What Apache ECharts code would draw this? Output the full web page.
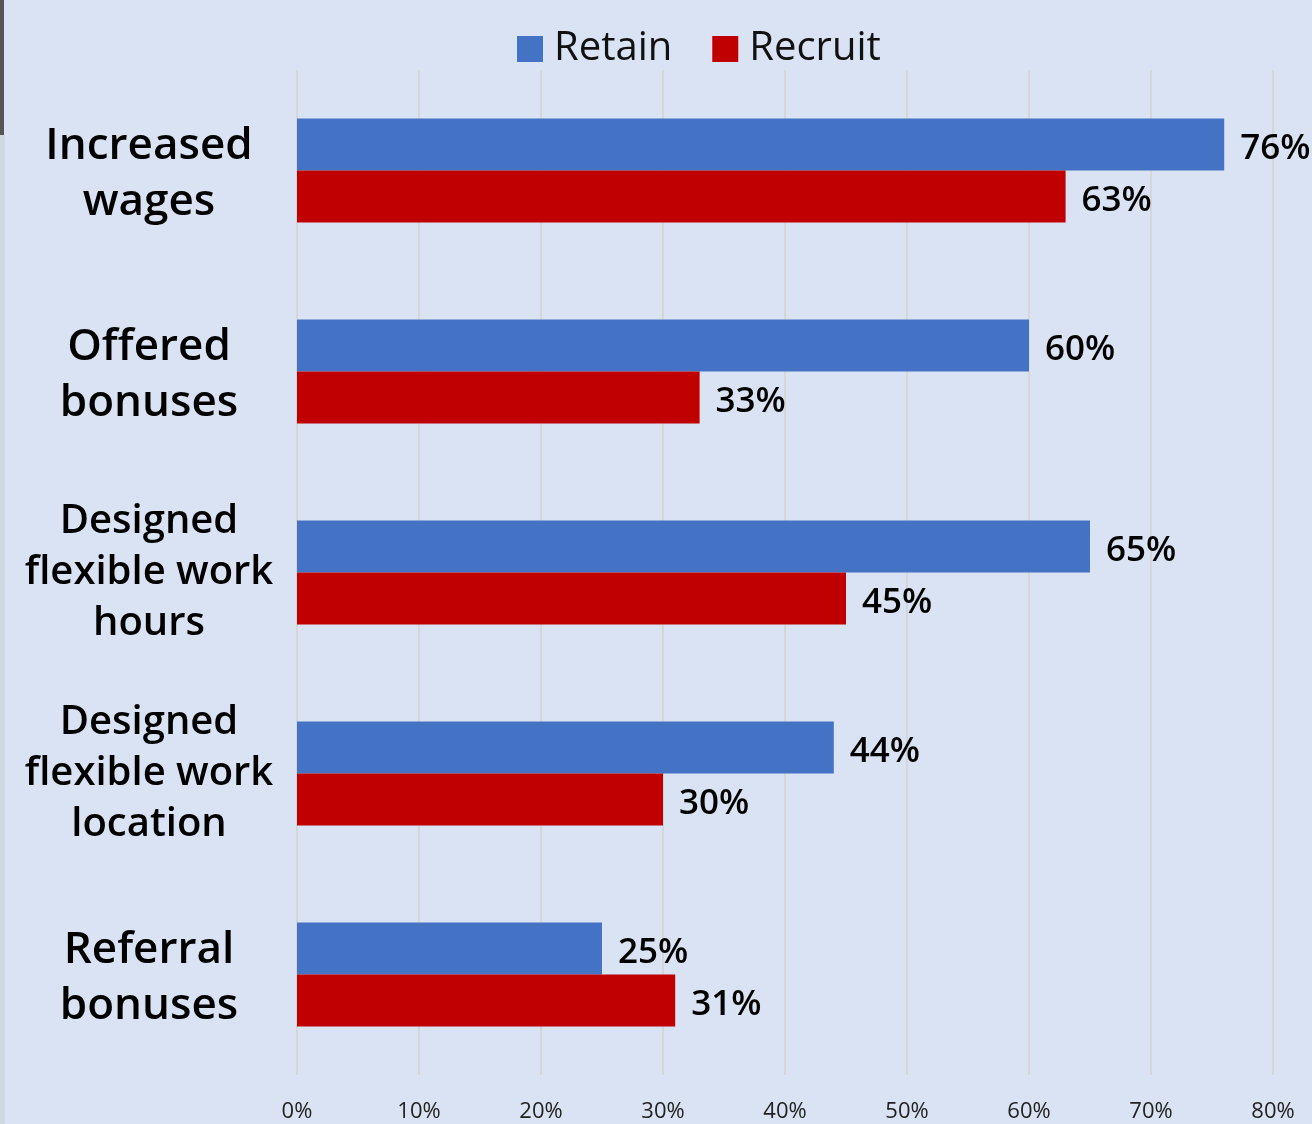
<!DOCTYPE html>
<html><head><meta charset="utf-8">
<script src="https://cdn.jsdelivr.net/npm/echarts@6/dist/echarts.min.js"></script>
<style>html,body{margin:0;padding:0;background:#dae3f3;}#c{width:1312px;height:1124px;}</style>
</head><body><div id="c"></div>
<script>
const categories = ["Increased\nwages", "Offered\nbonuses", "Designed\nflexible work\nhours", "Designed\nflexible work\nlocation", "Referral\nbonuses"];
const retain = [76, 60, 65, 44, 25];
const recruit = [63, 33, 45, 30, 31];
const seriesNames = ["Retain", "Recruit"];
const FONT = '"Open Sans", "Noto Sans", sans-serif';
const chart = echarts.init(document.getElementById('c'), null, {renderer: 'canvas'});
const labelCommon = {show: true, position: 'right', distance: 16, offset: [0, 5], formatter: '{c}%', fontFamily: FONT, fontSize: 35, fontWeight: 600, color: '#000'};
chart.setOption({
  backgroundColor: '#dae3f3',
  animation: false,
  graphic: [
    {type: 'rect', shape: {x: 0, y: 0, width: 4, height: 135}, style: {fill: '#555555'}},
    {type: 'rect', shape: {x: 0, y: 135, width: 5, height: 989}, style: {fill: '#d0d7e2'}}
  ],
  legend: {
    top: 24, left: 512,
    itemWidth: 26, itemHeight: 26, itemGap: 40,
    icon: 'rect',
    textStyle: {fontFamily: FONT, fontSize: 40, color: '#111', padding: [0, 0, 0, 6]},
    data: seriesNames
  },
  grid: {left: 297, right: 39, top: 70, bottom: 49},
  xAxis: {
    type: 'value', min: 0, max: 80, interval: 10,
    axisLine: {show: false}, axisTick: {show: false},
    splitLine: {show: true, lineStyle: {color: '#d6d6d6', width: 2}},
    axisLabel: {formatter: '{value}%', fontFamily: FONT, fontSize: 22, color: '#222', margin: 26}
  },
  yAxis: {
    type: 'category', inverse: true, data: categories,
    axisLine: {show: false}, axisTick: {show: false},
    axisLabel: {
      fontFamily: FONT, fontSize: 40, fontWeight: 600, color: '#000', align: 'center', margin: 148, lineHeight: 51,
      formatter: function (v) {
        const lines = v.split('\n');
        if (lines.length === 2) return lines.map(l => '{big|' + l + '}').join('\n');
        return v;
      },
      rich: {
        big: {fontFamily: FONT, fontSize: 44, fontWeight: 600, color: '#000', lineHeight: 56, padding: [8, 0, 0, 0]}
      }
    }
  },
  series: [
    {name: seriesNames[0], type: 'bar', data: retain, barWidth: 52, barGap: '0%',
     itemStyle: {color: '#4472c4'}, label: labelCommon},
    {name: seriesNames[1], type: 'bar', data: recruit, barWidth: 52, barGap: '0%',
     itemStyle: {color: '#c00000'}, label: labelCommon}
  ]
});
</script></body></html>
